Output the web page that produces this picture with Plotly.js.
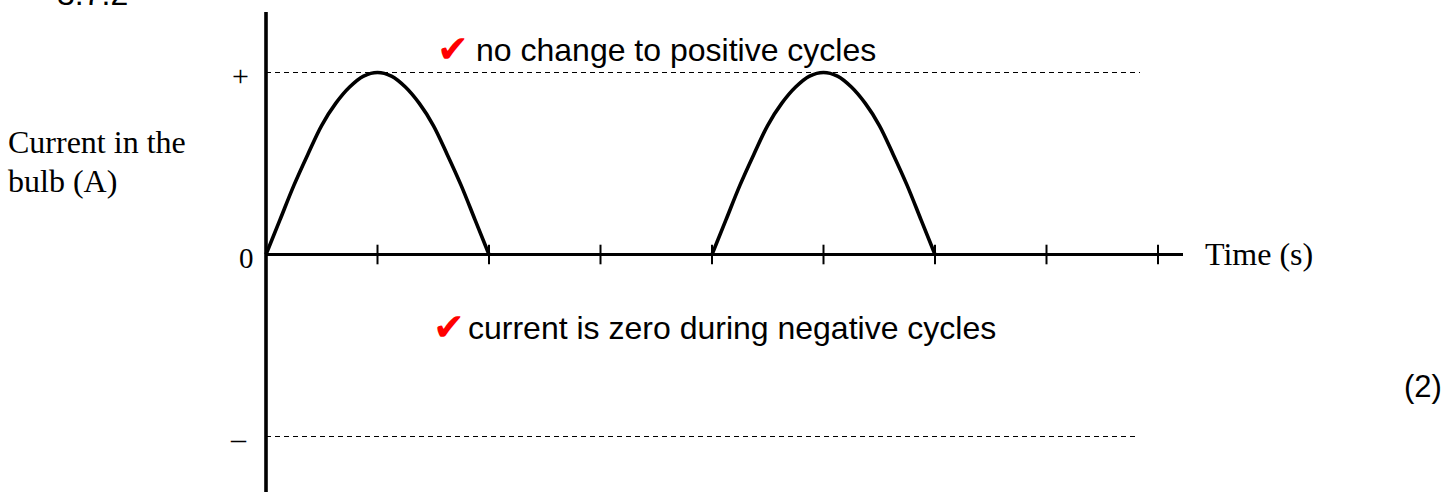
<!DOCTYPE html>
<html>
<head>
<meta charset="utf-8">
<script src="https://cdn.plot.ly/plotly-3.0.1.min.js"></script>
<style>
  html, body { margin: 0; padding: 0; background: #fff; }
  #chart { width: 1455px; height: 492px; }
</style>
</head>
<body>
<div id="chart"></div>
<script>
// Half-wave rectified current through the bulb
const timeHump1 = [0, 0.125, 0.25, 0.375, 0.5, 0.625, 0.75, 0.875, 1, 1.125, 1.25, 1.375, 1.5, 1.625, 1.75, 1.875, 2];
const timeHump2 = [4, 4.125, 4.25, 4.375, 4.5, 4.625, 4.75, 4.875, 5, 5.125, 5.25, 5.375, 5.5, 5.625, 5.75, 5.875, 6];
const currentHump = [0, 0.19, 0.38, 0.55, 0.71, 0.83, 0.92, 0.98, 1, 0.98, 0.92, 0.83, 0.71, 0.55, 0.38, 0.19, 0];
const timeZero = [2, 4, null, 6, 8];
const currentZero = [0, 0, null, 0, 0];
const timeTicks = [1, 2, 3, 4, 5, 6, 7, 8];
const levelValues = [1, 0, -1];
const levelLabels = ['+', '0', '–'];
const axisTitleY = ['Current in the', 'bulb (A)'];
const axisTitleX = 'Time (s)';
const notes = ['no change to positive cycles', 'current is zero during negative cycles'];
const questionNo = '3.7.2';
const marks = '(2)';

// pixel geometry of the drawing
const W = 1455, H = 492;
const PX0 = 266, PXU = 111.5;   // x pixel of t = 0, pixels per time unit
const PY0 = 254.5, PYU = 182;   // y pixel of current 0, pixels per unit
const xp = px => px / W;
const yp = py => 1 - py / H;
const dataX = px => (px - PX0) / PXU;
const dataY = py => (PY0 - py) / PYU;

const SERIF = 'Liberation Serif, Times New Roman, serif';
const SANS = 'Liberation Sans, Arial, sans-serif';
const CHECK = 'DejaVu Sans, sans-serif';

const traces = [
  // x axis line
  { x: [0, dataX(1183)], y: [0, 0], mode: 'lines', line: { color: '#000', width: 3 }, hoverinfo: 'skip' },
  // y axis line
  { x: [0, 0], y: [dataY(H + 2), dataY(12)], mode: 'lines', line: { color: '#000', width: 3.6 }, hoverinfo: 'skip' },
  // + and − reference levels
  { x: [0, dataX(1140)], y: [levelValues[0], levelValues[0]], mode: 'lines',
    line: { color: '#000', width: 1, dash: '5px,4px' }, hoverinfo: 'skip' },
  { x: [0, dataX(1138)], y: [levelValues[2], levelValues[2]], mode: 'lines',
    line: { color: '#000', width: 1, dash: '5px,4px' }, hoverinfo: 'skip' },
  // time ticks
  { x: timeTicks, y: timeTicks.map(() => 0), mode: 'markers',
    marker: { symbol: 'line-ns', size: 14, line: { color: '#000', width: 2 } }, hoverinfo: 'skip' },
  // current: zero intervals
  { x: timeZero, y: currentZero, mode: 'lines', line: { color: '#000', width: 3 }, connectgaps: false, hoverinfo: 'skip' },
  // current: positive half-cycles
  { x: timeHump1, y: currentHump, mode: 'lines', line: { color: '#000', width: 3.6, shape: 'spline', smoothing: 1 } },
  { x: timeHump2, y: currentHump, mode: 'lines', line: { color: '#000', width: 3.6, shape: 'spline', smoothing: 1 } }
];

function note(text, px, py, size, family, color, xanchor) {
  return {
    text: text, xref: 'paper', yref: 'paper', x: xp(px), y: yp(py),
    xanchor: xanchor || 'left', yanchor: 'middle', showarrow: false,
    font: { family: family, size: size, color: color || '#000' }
  };
}

const annotations = [
  note(questionNo, 55, -6, 32, SANS),
  note(levelLabels[0], 240, 75, 30, SERIF, '#000', 'center'),
  note(levelLabels[1], 246.5, 258, 29, SERIF, '#000', 'center'),
  note(levelLabels[2], 238, 438, 30, SERIF, '#000', 'center'),
  note(axisTitleY[0], 6, 142, 32, SERIF),
  note(axisTitleY[1], 6, 181, 32, SERIF),
  note(axisTitleX, 1203, 254, 32, SERIF),
  note('✔', 453, 49, 38, CHECK, '#ff0000', 'center'),
  note(notes[0], 474, 50, 32, SANS),
  note('✔', 449, 327, 38, CHECK, '#ff0000', 'center'),
  note(notes[1], 466, 328, 32, SANS),
  note(marks, 1402, 386, 31, SANS)
];

const layout = {
  width: W, height: H,
  margin: { l: 0, r: 0, t: 0, b: 0, pad: 0 },
  paper_bgcolor: '#fff', plot_bgcolor: '#fff',
  showlegend: false,
  xaxis: { range: [dataX(0), dataX(W)], visible: false, fixedrange: true },
  yaxis: { range: [dataY(H), dataY(0)], visible: false, fixedrange: true },
  annotations: annotations
};

Plotly.newPlot('chart', traces, layout, { staticPlot: true, displayModeBar: false });
</script>
</body>
</html>
